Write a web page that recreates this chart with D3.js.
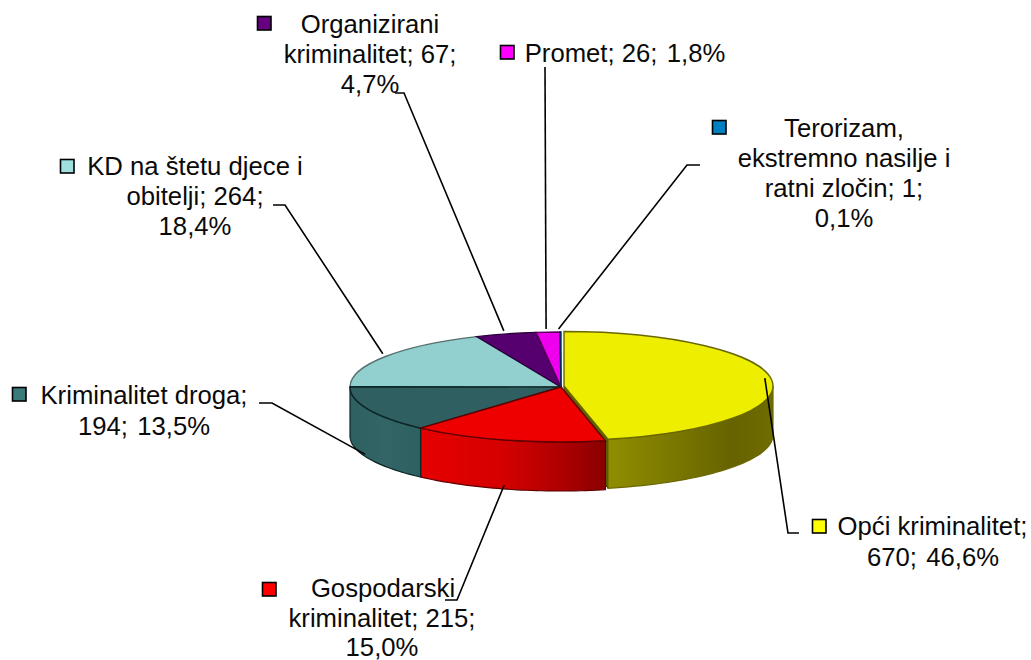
<!DOCTYPE html>
<html>
<head>
<meta charset="utf-8">
<script src="https://cdn.jsdelivr.net/npm/d3@7"></script>
<style>
    html, body {margin:0; padding:0; background:#fff;}
    svg {display:block;}
    text {font-family:"Liberation Sans", Arial, sans-serif; font-size:25.7px; fill:#0a0a0a;}
</style>
</head>
<body>
<div id="chart"></div>
<script>
    // values in chart order, clockwise from 12 o'clock
    var categories = ["Opći kriminalitet", "Gospodarski kriminalitet", "Kriminalitet droga", "KD na štetu djece i obitelji", "Organizirani kriminalitet", "Promet", "Terorizam, ekstremno nasilje i ratni zločin"];
    var values = [670, 215, 194, 264, 67, 26, 1];
    var percents = ["46,6%", "15,0%", "13,5%", "18,4%", "4,7%", "1,8%", "0,1%"];
    var labelLines = [
        ["Opći kriminalitet;", "670;\u00a0\u200a46,6%"],
        ["Gospodarski", "kriminalitet; 215;", "15,0%"],
        ["Kriminalitet droga;", "194;\u00a0\u200a13,5%"],
        ["KD na štetu djece i", "obitelji; 264;", "18,4%"],
        ["Organizirani", "kriminalitet; 67;", "4,7%"],
        ["Promet; 26;\u00a0\u200a1,8%"],
        ["Terorizam,", "ekstremno nasilje i", "ratni zločin; 1;", "0,1%"]
    ];

    var topColors = ["#eeee00", "#ee0000", "#2f5f60", "#92cfcf", "#560070", "#ee00ee", "#0080c0"];
    var edgeColors = ["#6b6800", "#600000", "#0c2526", "#55706f", "#2a0038", "#5a005a", "#003050"];
    var keyColors = ["#ffff00", "#ff0000", "#3a7a7a", "#a0e0e0", "#660080", "#ff00ff", "#0080c0"];

    var width = 1031, height = 660;
    var cx = 561, cy = 387, rx = 211, ry = 55, depth = 49;
    var explode = {dx:3, dy:-1, rx:209};

    // layout of the labels: key box, text lines, leader elbow and leader end
    var layout = [
        {key:[812,519], xs:[932.5,933], ys:[535,566], elbow:[788,533], end:[799,533]},
        {key:[262,582], xs:[383,382,382], ys:[597,627,655.5], elbow:[457,600], end:[445,600], side:true},
        {key:[12,387], xs:[144,144], ys:[404,435], elbow:[272,403], end:[259,403], side:true},
        {key:[60,159], xs:[195,195,195], ys:[175,205,235], elbow:[285,205], end:[273,205]},
        {key:[257,16], xs:[370,370,370], ys:[33,63,93], elbow:[404,93], end:[395,93]},
        {key:[500,45], xs:[625], ys:[62], elbow:[545,67], end:[545,67]},
        {key:[712,120], xs:[844,844,844,844], ys:[137,167,197,227], elbow:[687,165], end:[700,165]}
    ];

    var svg = d3.select("#chart")
        .append("svg")
        .attr("width", width)
        .attr("height", height);

    var pie = d3.pie().sort(null).startAngle(0).endAngle(2 * Math.PI);
    var slices = pie(values);

    var arc = d3.arc().innerRadius(0);

    function point(a, r, ox, oy) {
        return [cx + (ox || 0) + r * Math.sin(a), cy + (oy || 0) - r * (ry / rx) * Math.cos(a)];
    }

    var line = d3.line();

    // gradients for the rim
    var defs = svg.append("defs");
    var rims = [
        ["rim0", [[0,"#918d00"],[0.35,"#7d7a00"],[0.75,"#666300"],[1,"#6f6c00"]]],
        ["rim1", [[0,"#e60000"],[0.45,"#d40000"],[0.75,"#b00000"],[1,"#8a0000"]]],
        ["rim2", [[0,"#2f6061"],[0.5,"#346566"],[1,"#2f6061"]]]
    ];
    rims.forEach(function(r){
        var g = defs.append("linearGradient").attr("id", r[0]);
        r[1].forEach(function(s){
            g.append("stop").attr("offset", s[0]).attr("stop-color", s[1]);
        });
    });

    function rimPath(d, i) {
        var ox = i == 0 ? explode.dx : 0;
        var oy = i == 0 ? explode.dy : 0;
        var r = i == 0 ? explode.rx : rx;
        var a0 = Math.max(d.startAngle, Math.PI / 2);
        var a1 = Math.min(d.endAngle, 3 * Math.PI / 2);
        var n = 40;
        var top = d3.range(n + 1).map(function(k){ return point(a0 + (a1 - a0) * k / n, r, ox, oy); });
        var bottom = top.slice().reverse().map(function(p){ return [p[0], p[1] + depth]; });
        return line(top.concat(bottom)) + "Z";
    }

    // cut wall of the pulled out slice, it shows in the gap
    var first = slices[0];
    var front = point(first.endAngle, explode.rx, explode.dx, explode.dy);
    var apex = [cx + explode.dx, cy + explode.dy];
    svg.append("path")
        .attr("d", line([apex, front, [front[0], front[1] + depth], [apex[0], apex[1] + depth]]) + "Z")
        .attr("fill", "#5f5c00")
        .attr("stroke", "#3c3a00");

    // rims, only the front slices have one
    svg.selectAll(".rim")
        .data(slices.slice(0, 3))
        .enter()
        .append("path")
        .attr("class", "rim")
        .attr("d", rimPath)
        .attr("fill", function(d, i){ return "url(#rim" + i + ")"; })
        .attr("stroke", function(d, i){ return edgeColors[i]; })
        .attr("stroke-width", 1.2);

    // tops, back slices first so the front ones lie over them
    var order = [3, 4, 5, 6, 2, 1, 0];
    svg.selectAll(".top")
        .data(order.map(function(i){ return {s:slices[i], i:i}; }))
        .enter()
        .append("path")
        .attr("class", "top")
        .attr("transform", function(d){
            var ox = d.i == 0 ? explode.dx : 0, oy = d.i == 0 ? explode.dy : 0;
            return "translate(" + (cx + ox) + "," + (cy + oy) + ") scale(1," + (ry / rx) + ")";
        })
        .attr("d", function(d){
            return arc.outerRadius(d.i == 0 ? explode.rx : rx)(d.s);
        })
        .attr("fill", function(d){ return topColors[d.i]; })
        .attr("stroke", function(d){ return edgeColors[d.i]; })
        .attr("stroke-width", 1.4)
        .attr("vector-effect", "non-scaling-stroke");

    // leaders start from the middle of each slice
    svg.selectAll(".leader")
        .data(slices)
        .enter()
        .append("path")
        .attr("class", "leader")
        .attr("d", function(d, i){
            var p = point((d.startAngle + d.endAngle) / 2, rx, 0, 0);
            if (layout[i].side) p = [p[0] - 3, p[1] + depth - 4];
            else if (i == 0) p = [p[0] - 6, p[1] - 3];
            else p = [p[0] - 2, p[1] - 3];
            return line([p, layout[i].elbow, layout[i].end]);
        })
        .attr("fill", "none")
        .attr("stroke", "#000")
        .attr("stroke-width", 1.6);

    // legend keys
    svg.selectAll(".key")
        .data(keyColors)
        .enter()
        .append("rect")
        .attr("class", "key")
        .attr("x", function(d, i){ return layout[i].key[0] + 0.5; })
        .attr("y", function(d, i){ return layout[i].key[1] + 0.5; })
        .attr("width", 13.5)
        .attr("height", 13.5)
        .attr("fill", function(d){ return d; })
        .attr("stroke", "#000")
        .attr("stroke-width", 1.6);

    // labels
    var labels = svg.selectAll(".label")
        .data(labelLines)
        .enter()
        .append("text")
        .attr("class", "label")
        .attr("text-anchor", "middle");

    labels.selectAll("tspan")
        .data(function(d, i){ return d.map(function(t, k){ return {t:t, i:i, k:k}; }); })
        .enter()
        .append("tspan")
        .attr("x", function(d){ return layout[d.i].xs[d.k]; })
        .attr("y", function(d){ return layout[d.i].ys[d.k]; })
        .text(function(d){ return d.t; });
</script>
</body>
</html>
